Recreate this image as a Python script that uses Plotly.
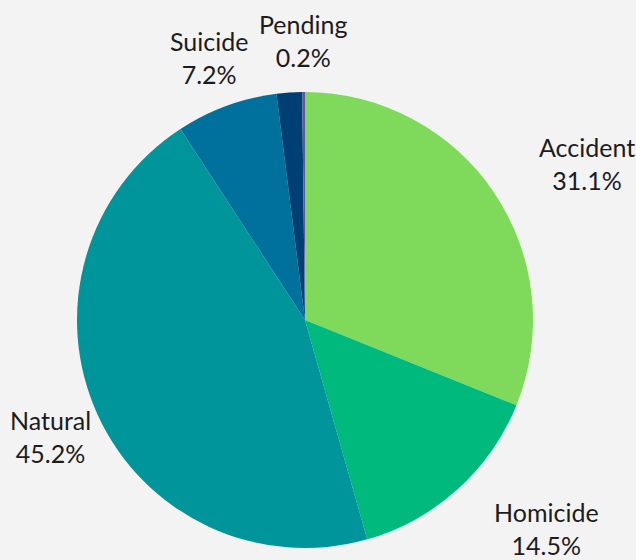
import math
import plotly.graph_objects as go

# Share of deaths by manner (percent)
categories = ["Accident", "Homicide", "Natural", "Suicide", "Undetermined", "Pending"]
shares = [31.1, 14.5, 45.2, 7.2, 1.8, 0.2]
show_label = [True, True, True, True, False, True]
slice_colors = ["#7fd95a", "#00b97c", "#00949b", "#00709c", "#003f73", "#5b5b9b"]

LABEL_FONT = dict(family="Lato, Noto Sans, sans-serif", size=25, color="#1c1c1c")
LABEL_RADIUS = 0.614  # distance of label anchors from the pie centre, in paper units

fig = go.Figure(
    go.Pie(
        labels=categories,
        values=shares,
        sort=False,
        direction="clockwise",
        rotation=0,
        marker=dict(colors=slice_colors, line=dict(width=0)),
        textinfo="none",
        showlegend=False,
        hoverinfo="label+percent",
        domain=dict(x=[0, 1], y=[0, 1]),
    )
)

# Category / percentage labels placed outside each slice at its mid-angle
total = sum(shares)
cum = 0.0
for name, val, show in zip(categories, shares, show_label):
    mid = (cum + val / 2) / total * 2 * math.pi
    cum += val
    if not show:
        continue
    sx, cy = math.sin(mid), math.cos(mid)
    fig.add_annotation(
        x=0.5 + LABEL_RADIUS * sx,
        y=0.5 + LABEL_RADIUS * cy,
        xref="paper",
        yref="paper",
        text=f"{name}<br>{val:.1f}%",
        showarrow=False,
        align="center",
        xanchor="left" if sx > 0.05 else "center",
        yanchor="middle",
        font=LABEL_FONT,
    )

fig.update_layout(
    width=636,
    height=560,
    margin=dict(l=77, r=103, t=92, b=12),
    paper_bgcolor="#f3f3f3",
    plot_bgcolor="#f3f3f3",
)

fig.write_html("out.html")
